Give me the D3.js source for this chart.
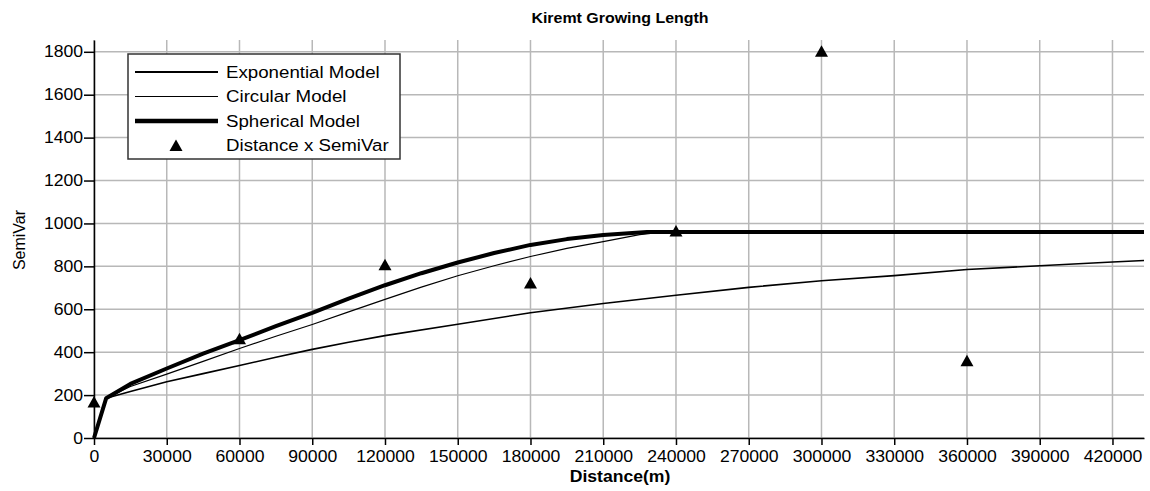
<!DOCTYPE html>
<html>
<head>
<meta charset="utf-8">
<script src="https://cdn.jsdelivr.net/npm/d3@7"></script>
<style>
  body { margin: 0; background: #fff; }
  text { font-family: "Liberation Sans", Arial, sans-serif; fill: #000; }
</style>
</head>
<body>
<script>

// data
var distExp = [0, 5000, 15000, 30000, 45000, 60000, 75000, 90000, 105000, 120000, 150000, 180000, 210000, 240000, 270000, 300000, 330000, 360000, 390000, 420000, 433000];
var expModel = [0, 185, 217, 262, 300, 338, 376, 413, 446, 477, 530, 584, 627, 665, 702, 733, 757, 785, 803, 820, 827];

var distCirc = [0, 5000, 15000, 30000, 45000, 60000, 75000, 90000, 105000, 120000, 135000, 150000, 165000, 180000, 195000, 210000, 225000, 235000, 433000];
var circModel = [0, 185, 240, 298, 357, 417, 474, 529, 588, 646, 703, 756, 803, 846, 884, 915, 948, 960, 960];

var distSph = [0, 5000, 15000, 30000, 45000, 60000, 75000, 90000, 105000, 120000, 135000, 150000, 165000, 180000, 195000, 210000, 228000, 433000];
var sphModel = [0, 185, 252, 324, 393, 456, 521, 583, 650, 712, 768, 818, 862, 900, 927, 946, 960, 960];

var obsDist = [0, 60000, 120000, 180000, 240000, 300000, 360000];
var obsSemiVar = [165, 460, 805, 720, 962, 1800, 358];

var xTicks = [0, 30000, 60000, 90000, 120000, 150000, 180000, 210000, 240000, 270000, 300000, 330000, 360000, 390000, 420000];
var yTicks = [0, 200, 400, 600, 800, 1000, 1200, 1400, 1600, 1800];

var legendLabels = ["Exponential Model", "Circular Model", "Spherical Model", "Distance x SemiVar"];

// the picture is slightly stretched sideways, so the text is too
var stretch = 1.1;

// set the dimensions and margins of the graph
var margin = {top: 40, right: 6, bottom: 53, left: 94},
    width = 1150 - margin.left - margin.right,
    height = 491 - margin.top - margin.bottom;

// set the ranges
var x = d3.scaleLinear()
    .domain([0, 433000])
    .range([0, width]);
var y = d3.scaleLinear()
    .domain([0, 1855])
    .range([height, 0]);

var svg = d3.select("body").append("svg")
    .attr("width", 1150)
    .attr("height", 491);

var g = svg.append("g")
    .attr("transform", "translate(" + margin.left + "," + margin.top + ")");

// grid lines
g.selectAll(".vgrid")
    .data(xTicks)
    .enter().append("line")
    .attr("class", "vgrid")
    .attr("x1", function(d) { return x(d); })
    .attr("x2", function(d) { return x(d); })
    .attr("y1", 0)
    .attr("y2", height)
    .attr("stroke", "#b8b8b8")
    .attr("stroke-width", 1.5);

g.selectAll(".hgrid")
    .data(yTicks)
    .enter().append("line")
    .attr("class", "hgrid")
    .attr("x1", 0)
    .attr("x2", width)
    .attr("y1", function(d) { return y(d); })
    .attr("y2", function(d) { return y(d); })
    .attr("stroke", "#b8b8b8")
    .attr("stroke-width", 1.5);

// model lines
function drawLine(xs, ys, w) {
    var pts = xs.map(function(d, i) { return [d, ys[i]]; });
    var line = d3.line()
        .x(function(d) { return x(d[0]); })
        .y(function(d) { return y(d[1]); });
    g.append("path")
        .datum(pts)
        .attr("d", line)
        .attr("fill", "none")
        .attr("stroke", "#000")
        .attr("stroke-width", w)
        .attr("stroke-linejoin", "round");
}
drawLine(distExp, expModel, 1.6);
drawLine(distCirc, circModel, 1.2);
drawLine(distSph, sphModel, 4);

// triangle marker
var tri = "M0,-6.5L6.5,5L-6.5,5Z";

g.selectAll(".obs")
    .data(obsDist)
    .enter().append("path")
    .attr("class", "obs")
    .attr("d", tri)
    .attr("transform", function(d, i) { return "translate(" + x(d) + "," + y(obsSemiVar[i]) + ")"; })
    .attr("fill", "#000");

// add the x Axis
var xAxis = g.append("g")
    .attr("transform", "translate(0," + height + ")")
    .call(d3.axisBottom(x).tickValues(xTicks).tickFormat(d3.format("d")).tickSize(7).tickSizeOuter(0).tickPadding(6));
xAxis.selectAll("text")
    .attr("transform", "scale(" + stretch + ",1)")
    .style("font-size", "16px");

// add the y Axis
var yAxis = g.append("g")
    .call(d3.axisLeft(y).tickValues(yTicks).tickFormat(d3.format("d")).tickSize(10).tickSizeOuter(0));
yAxis.selectAll("text")
    .attr("x", -11 / stretch)
    .attr("transform", "scale(" + stretch + ",1)")
    .style("font-size", "16px");

svg.selectAll(".domain, .tick line")
    .attr("stroke", "#000")
    .attr("stroke-width", 1.5);

// titles
svg.append("text")
    .attr("transform", "translate(620,23) scale(" + stretch + ",1)")
    .attr("text-anchor", "middle")
    .style("font-size", "14.5px")
    .style("font-weight", "bold")
    .text("Kiremt Growing Length");

svg.append("text")
    .attr("transform", "translate(620,482) scale(" + stretch + ",1)")
    .attr("text-anchor", "middle")
    .style("font-size", "16px")
    .style("font-weight", "bold")
    .text("Distance(m)");

svg.append("text")
    .attr("transform", "translate(25,240) rotate(-90)")
    .attr("text-anchor", "middle")
    .style("font-size", "16px")
    .text("SemiVar");

// legend
var legend = svg.append("g");

legend.append("rect")
    .attr("x", 128)
    .attr("y", 54)
    .attr("width", 272)
    .attr("height", 105)
    .attr("fill", "#fff")
    .attr("stroke", "#333")
    .attr("stroke-width", 1.5);

var legendWidths = [2, 1.2, 4.5];
legendLabels.forEach(function(label, i) {
    var ly = 72 + i * 24.5;
    if (i < 3) {
        legend.append("line")
            .attr("x1", 135)
            .attr("x2", 218)
            .attr("y1", ly)
            .attr("y2", ly)
            .attr("stroke", "#000")
            .attr("stroke-width", legendWidths[i]);
    } else {
        legend.append("path")
            .attr("d", tri)
            .attr("transform", "translate(176," + (ly + 0.5) + ")")
            .attr("fill", "#000");
    }
    legend.append("text")
        .attr("transform", "translate(226," + (ly + 5.5) + ") scale(" + stretch + ",1)")
        .style("font-size", "17px")
        .text(label);
});

</script>
</body>
</html>
